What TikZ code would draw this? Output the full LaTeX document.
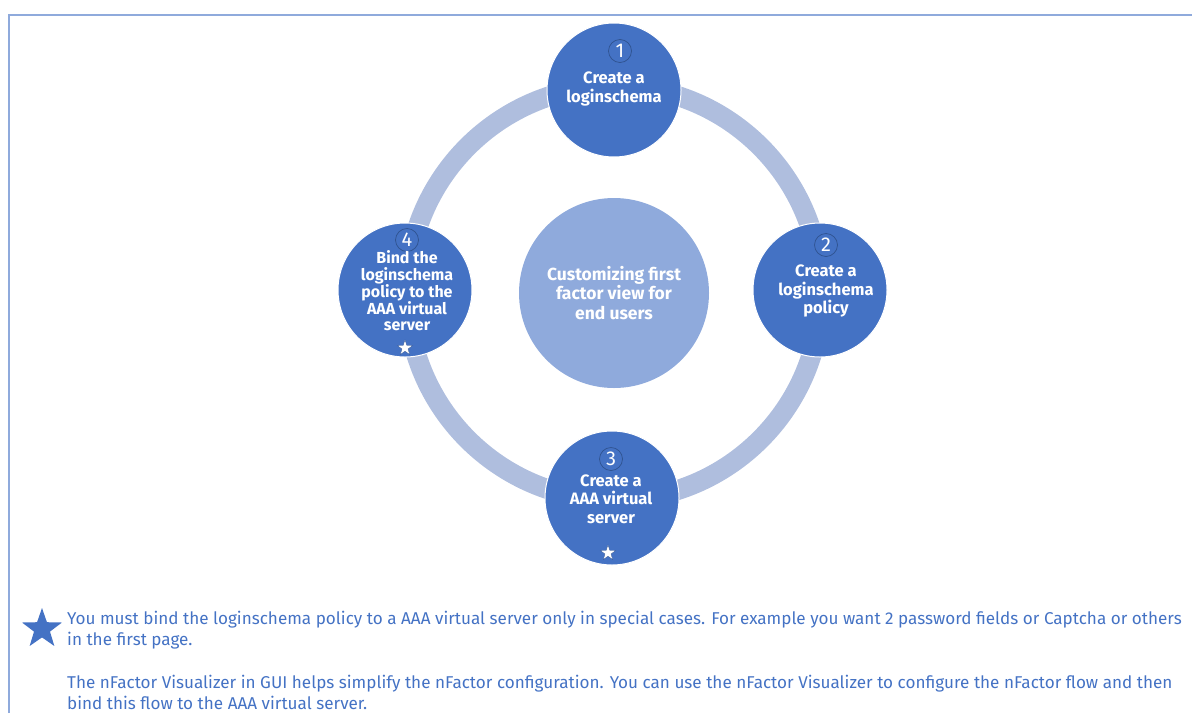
\documentclass[tikz,border=0pt]{standalone}
\usepackage{fontspec}
\setmainfont{Fira Sans}
\usepackage{tikz}
\usetikzlibrary{shapes.geometric}
\definecolor{stepblue}{HTML}{4472C4}
\definecolor{hubblue}{HTML}{8FAADC}
\definecolor{ringblue}{HTML}{AFBEDE}
\definecolor{numline}{HTML}{2F528F}

\begin{document}
\begin{tikzpicture}[x=1pt,y=-1pt,
  stepnode/.style={circle,fill=stepblue,draw=white,line width=1pt,minimum size=134pt,inner sep=0pt},
  steptext/.style={text=white,align=center,font=\fontsize{16.5}{18.5}\selectfont\bfseries},
  numnode/.style={circle,draw=numline,line width=0.7pt,minimum size=23pt,inner sep=0pt,text=white,font=\fontsize{20}{20}\selectfont},
  smallstar/.style={star,star points=5,star point ratio=2.5,fill=white,draw=numline,line width=0.3pt,minimum size=16pt,inner sep=0pt},
  notetext/.style={anchor=north west,text=stepblue,align=left,font=\fontsize{17.1}{20.5}\selectfont,inner sep=0pt}]
\useasboundingbox (0,0) rectangle (1192,713);
\draw[hubblue,line width=2pt] (9,713) -- (9,15) -- (1192,15);

\node[circle,fill=hubblue,minimum size=190pt,inner sep=0pt] (hub) at (614,293) {};
\draw[ringblue,line width=20pt] (hub.center) circle [radius=207pt];
\node[steptext,font=\fontsize{17.5}{19.5}\selectfont\bfseries] (hubtext) at (hub.center) {Customizing first\\factor view for\\end users};

\node[stepnode] (s1) at (614,90) {};
\node[stepnode] (s2) at (820,290) {};
\node[stepnode] (s3) at (612,498) {};
\node[stepnode] (s4) at (405,290) {};

\node[numnode] (n1) at (620,51) {1};
\node[numnode] (n2) at (826,245) {2};
\node[numnode] (n3) at (611,459) {3};
\node[numnode] (n4) at (407,240) {4};

\node[steptext] (t1) at (614,89) {Create a\\loginschema};
\node[steptext] (t2) at (826,291) {Create a\\loginschema\\policy};
\node[steptext] (t3) at (611,499) {Create a\\AAA virtual\\server};
\node[steptext,font=\fontsize{16}{16.7}\selectfont\bfseries] (t4) at (407,291) {Bind the\\loginschema\\policy to the\\AAA virtual\\server};

\node[smallstar] (star3) at (608,553) {};
\node[smallstar] (star4) at (405,348) {};

\node[star,star points=5,star point ratio=2.5,fill=stepblue,minimum size=42pt,inner sep=0pt] (bigstar) at (42,629) {};
\node[notetext] (note1) at (67,611) {You must bind the loginschema policy to a AAA virtual server only in special cases. For example you want 2 password fields or Captcha or others\\in the first page.};
\node[notetext] (note2) at (67,675) {The nFactor Visualizer in GUI helps simplify the nFactor configuration. You can use the nFactor Visualizer to configure the nFactor flow and then\\bind this flow to the AAA virtual server.};
\end{tikzpicture}
\end{document}
